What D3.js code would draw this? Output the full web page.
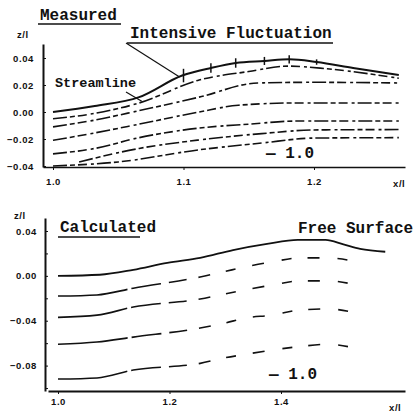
<!DOCTYPE html>
<html>
<head>
<meta charset="utf-8">
<script src="https://cdn.jsdelivr.net/npm/d3@7"></script>
<style>
body { margin: 0; background: #fff; }
svg { display: block; background: #fff; }
.mono { font-family: "Liberation Mono", "DejaVu Sans Mono", monospace; font-weight: bold; fill: #111; }
.tick text, .lab { font-family: "Liberation Sans", Arial, sans-serif; font-weight: bold; font-size: 9.5px; letter-spacing: 0.6px; fill: #111; }
.domain, .tick line { stroke: #111; }
</style>
</head>
<body>
<svg width="413" height="412"></svg>
<script>
// ---- measured (top panel), x/l vs z/l ----
var measuredSurface = [[1.0, 0.000], [1.032, 0.0044], [1.066, 0.011], [1.099, 0.027], [1.121, 0.0326],
    [1.14, 0.0363], [1.162, 0.0378], [1.181, 0.039], [1.202, 0.037], [1.23, 0.0326], [1.265, 0.0274]];
var measuredLines = [
    [[1.0, -0.005], [1.032, -0.001], [1.066, 0.0067], [1.112, 0.0237], [1.15, 0.030], [1.18, 0.034], [1.21, 0.032], [1.265, 0.025]],
    [[1.0, -0.011], [1.032, -0.006], [1.066, 0.001], [1.112, 0.011], [1.157, 0.0215], [1.2, 0.022], [1.265, 0.0215]],
    [[1.0, -0.021], [1.032, -0.0155], [1.066, -0.009], [1.112, 0.0], [1.142, 0.005], [1.187, 0.0067], [1.265, 0.0067]],
    [[1.0, -0.031], [1.032, -0.027], [1.066, -0.019], [1.112, -0.0119], [1.15, -0.009], [1.187, -0.0067], [1.265, -0.0067]],
    [[1.02, -0.037], [1.066, -0.027], [1.112, -0.0207], [1.16, -0.016], [1.2, -0.0133], [1.265, -0.013]],
    [[1.0, -0.040], [1.05, -0.037], [1.112, -0.028], [1.16, -0.023], [1.2, -0.0193], [1.265, -0.019]]
];
// intensive fluctuation bars on the surface: [x/l, half range]
var fluctuation = [[1.10, 0.005], [1.121, 0.0035], [1.14, 0.0035], [1.162, 0.003], [1.181, 0.003], [1.202, 0.002]];

// ---- calculated (bottom panel) ----
var calcSurface = [[1.0, 0.0], [1.075, 0.001], [1.135, 0.0054], [1.196, 0.0116], [1.255, 0.016], [1.314, 0.023],
    [1.375, 0.0285], [1.43, 0.032], [1.48, 0.032], [1.512, 0.028], [1.542, 0.024], [1.587, 0.0215]];
var calcLines = [
    [[1.0, -0.018], [1.07, -0.017], [1.135, -0.011], [1.255, -0.001], [1.30, 0.004], [1.336, 0.008], [1.384, 0.0125], [1.434, 0.016], [1.483, 0.016], [1.542, 0.012]],
    [[1.0, -0.037], [1.07, -0.035], [1.135, -0.0278], [1.255, -0.0206], [1.30, -0.016], [1.336, -0.0125], [1.386, -0.008], [1.434, -0.0045], [1.485, -0.0045], [1.542, -0.009]],
    [[1.0, -0.061], [1.07, -0.059], [1.135, -0.0546], [1.255, -0.0465], [1.30, -0.042], [1.336, -0.0376], [1.384, -0.035], [1.434, -0.0304], [1.485, -0.0295], [1.542, -0.034]],
    [[1.0, -0.092], [1.07, -0.091], [1.135, -0.084], [1.255, -0.078], [1.30, -0.073], [1.336, -0.070], [1.386, -0.066], [1.434, -0.063], [1.485, -0.061], [1.545, -0.066]]
];

// ticks
var topXTicks = [1.0, 1.1, 1.2];
var topYTicks = [-0.04, -0.02, 0.00, 0.02, 0.04];
var botXTicks = [1.0, 1.2, 1.4];
var botYTicks = [-0.10, -0.08, -0.06, -0.04, -0.02, 0.00, 0.02, 0.04];
var botYLabels = [-0.08, -0.04, 0.00, 0.04];

var svg = d3.select("svg");

var xTop = d3.scaleLinear().domain([1.0, 1.2]).range([53, 314]);
var yTop = d3.scaleLinear().domain([-0.04, 0.04]).range([166, 58]);
var xBot = d3.scaleLinear().domain([1.0, 1.4]).range([58, 281]);
var yBot = d3.scaleLinear().domain([-0.08, 0.04]).range([365.6, 231]);

function extend(s, lo, hi) {
    return s.copy().domain([s.invert(lo), s.invert(hi)]).range([lo, hi]);
}

var fmt = function (d) { return d === 0 ? "0.00" : d3.format(".2f")(d); };

// ---- top axes ----
svg.append("g")
    .attr("transform", "translate(43,0)")
    .call(d3.axisLeft(extend(yTop, 167, 44)).tickValues(topYTicks).tickSizeInner(-3).tickSizeOuter(0).tickPadding(9).tickFormat(fmt))
    .call(function (g) { g.select(".domain").attr("stroke-width", 2); });

svg.append("g")
    .attr("transform", "translate(0,167)")
    .call(d3.axisBottom(extend(xTop, 43, 405)).tickValues(topXTicks).tickSizeInner(3).tickSizeOuter(0).tickPadding(8).tickFormat(d3.format(".1f")))
    .call(function (g) { g.select(".domain").attr("stroke-width", 1.5); });

// ---- bottom axes ----
svg.append("g")
    .attr("transform", "translate(45,0)")
    .call(d3.axisLeft(extend(yBot, 391, 218)).tickValues(botYTicks).tickSizeInner(-3).tickSizeOuter(0).tickPadding(8)
        .tickFormat(function (d) { return botYLabels.some(function (v) { return Math.abs(v - d) < 1e-9; }) ? fmt(d) : ""; }))
    .call(function (g) { g.select(".domain").attr("stroke-width", 2); });

svg.append("g")
    .attr("transform", "translate(0,391)")
    .call(d3.axisBottom(extend(xBot, 48, 405)).tickValues(botXTicks).tickSizeInner(3).tickSizeOuter(0).tickPadding(4).tickFormat(d3.format(".1f")))
    .call(function (g) { g.select(".domain").attr("stroke-width", 2); });

svg.append("text").attr("class", "lab").attr("x", 17).attr("y", 38).text("z/l");
svg.append("text").attr("class", "lab").attr("x", 393).attr("y", 187).text("x/l");
svg.append("text").attr("class", "lab").attr("x", 14).attr("y", 219).text("z/l");
svg.append("text").attr("class", "lab").attr("x", 389).attr("y", 411).text("x/l");

// ---- lines ----
function lineFor(x, y) {
    return d3.line()
        .x(function (d) { return x(d[0]); })
        .y(function (d) { return y(d[1]); })
        .curve(d3.curveMonotoneX);
}
var lineTop = lineFor(xTop, yTop);
var lineBot = lineFor(xBot, yBot);

svg.append("g").selectAll("path")
    .data(measuredLines)
    .enter().append("path")
    .attr("d", lineTop)
    .attr("fill", "none")
    .attr("stroke", "#111")
    .attr("stroke-width", 1.6)
    .attr("stroke-dasharray", "14,3,5,3,9,4,3,3");

svg.append("path")
    .datum(measuredSurface)
    .attr("d", lineTop)
    .attr("fill", "none")
    .attr("stroke", "#111")
    .attr("stroke-width", 2);

svg.append("g").selectAll("line")
    .data(fluctuation)
    .enter().append("line")
    .attr("x1", function (d) { return xTop(d[0]); })
    .attr("x2", function (d) { return xTop(d[0]); })
    .attr("y1", function (d) { return yTop(measuredSurface.find(function (p) { return p[0] >= d[0] - 0.002; })[1] + d[1]); })
    .attr("y2", function (d) { return yTop(measuredSurface.find(function (p) { return p[0] >= d[0] - 0.002; })[1] - d[1]); })
    .attr("stroke", "#111")
    .attr("stroke-width", 1.5);

svg.append("g").selectAll("path")
    .data(calcLines)
    .enter().append("path")
    .attr("d", lineBot)
    .attr("fill", "none")
    .attr("stroke", "#111")
    .attr("stroke-width", 1.6)
    .attr("stroke-dasharray", "70,4,30,8,18,12,12,16,10,17,12,18,10,16,12,18,10,17,12,18,10");

svg.append("path")
    .datum(calcSurface)
    .attr("d", lineBot)
    .attr("fill", "none")
    .attr("stroke", "#111")
    .attr("stroke-width", 1.8);

// ---- annotations ----
function label(x, y, size, txt) {
    return svg.append("text").attr("class", "mono").attr("x", x).attr("y", y).attr("font-size", size).text(txt);
}
function rule(x1, y1, x2, y2, w) {
    svg.append("line").attr("x1", x1).attr("y1", y1).attr("x2", x2).attr("y2", y2)
        .attr("stroke", "#111").attr("stroke-width", w || 1.5);
}

label(40, 20, 16, "Measured");
rule(38, 24, 121, 24);
label(130, 38, 16, "Intensive Fluctuation");
rule(127, 43, 333, 43);
rule(126, 43, xTop(1.097), yTop(0.026), 1.2);
label(55, 87, 13.5, "Streamline");
rule(126, 92, xTop(1.068), yTop(0.008), 1.2);
label(266, 158, 16, "\u2014 1.0");

label(60, 232, 16, "Calculated");
rule(58, 237, 140, 237);
label(298, 233, 16, "Free Surface");
label(269, 379, 16, "\u2014 1.0");
</script>
</body>
</html>
